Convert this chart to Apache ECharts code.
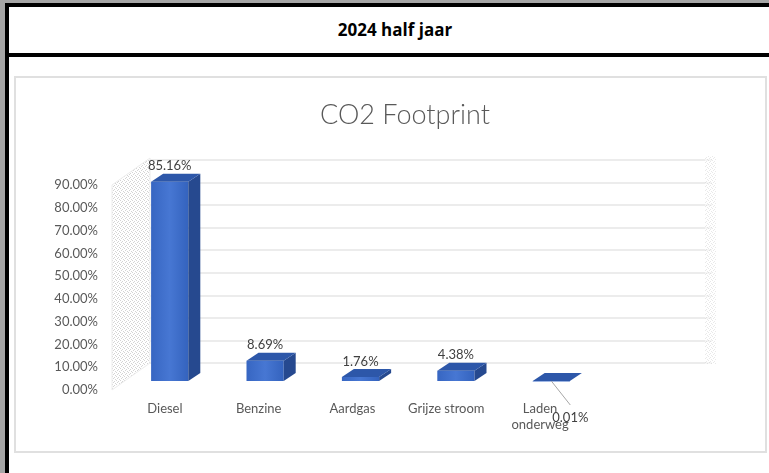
<!DOCTYPE html>
<html>
<head>
<meta charset="utf-8">
<script src="https://cdn.jsdelivr.net/npm/echarts@6/dist/echarts.min.js"></script>
<style>
  html, body { margin:0; padding:0; background:#fff; width:769px; height:473px; overflow:hidden; }
  .abs { position:absolute; }
  #header { position:absolute; left:9px; top:7px; width:772px; height:46px; line-height:46px; text-align:center;
            font-family: "Open Sans", Lato, sans-serif; font-weight:bold; font-size:17px; color:#000; }
  #box { position:absolute; left:14px; top:76px; width:749px; height:373px; border:2px solid #e0e0e0; }
  #chart { position:absolute; left:0; top:0; width:769px; height:473px; }
</style>
</head>
<body>
<div class="abs" style="left:0;top:0;width:5px;height:473px;background:#a6a6a6"></div>
<div class="abs" style="left:0;top:0;width:769px;height:3px;background:#a6a6a6"></div>
<div class="abs" style="left:5px;top:3px;width:4px;height:470px;background:#000"></div>
<div class="abs" style="left:5px;top:3px;width:764px;height:4px;background:#000"></div>
<div class="abs" style="left:5px;top:53px;width:764px;height:4px;background:#000"></div>
<div id="header">2024 half jaar</div>
<div id="box"></div>
<div id="chart"></div>
<script>
// ---- data ----
const chartTitle = 'CO2 Footprint';
const categories = ['Diesel', 'Benzine', 'Aardgas', 'Grijze stroom', 'Laden onderweg'];
const shares = [0.8516, 0.0869, 0.0176, 0.0438, 0.0001];
const axisMax = 0.9;
const axisStep = 0.1;

// ---- helpers ----
function pct(v) { return (v * 100).toFixed(2) + '%'; }

function makePattern() {
  const c = document.createElement('canvas');
  c.width = 4; c.height = 4;
  const g = c.getContext('2d');
  g.fillStyle = '#ffffff'; g.fillRect(0, 0, 4, 4);
  g.fillStyle = '#d4d4d4';
  g.fillRect(0, 0, 1, 1); g.fillRect(2, 1, 1, 1); g.fillRect(1, 2, 1, 1); g.fillRect(3, 3, 1, 1);
  return c;
}
const pattern = { image: makePattern(), repeat: 'repeat' };

const chart = echarts.init(document.getElementById('chart'), null, { renderer: 'canvas' });

const font = 'Lato, "Open Sans", sans-serif';
const DX = 12, DY = -8;

const option = {
  backgroundColor: 'transparent',
  animation: false,
  title: {
    text: chartTitle, left: 400, top: 97, textAlign: 'center',
    textStyle: { fontFamily: font, fontWeight: 300, fontSize: 27, color: '#595959' }
  },
  grid: [
    { left: 122, width: 477, top: 147, height: 234 },   // bars
    { left: 150, width: 562, top: 160, height: 203 },   // back wall
    { left: 118, width: 469, top: 185, height: 205 }    // front axis labels
  ],
  xAxis: [
    { gridIndex: 0, type: 'category', data: categories, show: false },
    { gridIndex: 1, type: 'category', data: categories, show: false },
    { gridIndex: 2, type: 'category', data: categories,
      axisLine: { show: false }, axisTick: { show: false },
      axisLabel: { interval: 0, margin: 11, fontFamily: font, fontSize: 13, color: '#595959', lineHeight: 16,
        formatter: v => v.length > 13 ? v.replace(' ', '\n') : v } }
  ],
  yAxis: [
    { gridIndex: 0, type: 'value', min: 0, max: 1, show: false },
    { gridIndex: 1, type: 'value', min: 0, max: axisMax, interval: axisStep,
      axisLine: { show: false }, axisTick: { show: false }, axisLabel: { show: false },
      splitLine: { show: true, lineStyle: { color: '#e6e6e6', width: 1.5 } } },
    { gridIndex: 2, type: 'value', min: 0, max: axisMax, interval: axisStep,
      axisLine: { show: false }, axisTick: { show: false }, splitLine: { show: false },
      axisLabel: { margin: 20, fontFamily: font, fontSize: 13, color: '#595959', formatter: pct } }
  ],
  graphic: [
    { type: 'polygon', silent: true, z: 1,
      shape: { points: [[112, 390], [150, 363], [150, 158], [112, 185]] },
      style: { fill: pattern, stroke: '#ececec', lineWidth: 1 } },
    { type: 'rect', silent: true, z: 1,
      shape: { x: 705, y: 156, width: 11, height: 208 },
      style: { fill: pattern, opacity: 0.5 } }
  ],
  series: [{
    type: 'custom',
    xAxisIndex: 0, yAxisIndex: 0,
    data: shares.map((v, i) => [i, v]),
    z: 5,
    renderItem: function (params, api) {
      const v = api.value(1);
      const base = api.coord([api.value(0), 0]);
      const top = api.coord([api.value(0), v]);
      const bw = api.size([1, 0])[0] * 0.39;
      const cx = base[0];
      const x0 = cx - bw / 2, x1 = cx + bw / 2;
      const yb = base[1], yt = top[1];
      const children = [
        { type: 'rect', shape: { x: x0, y: yt, width: bw, height: Math.max(yb - yt, 0.5) },
          style: { fill: new echarts.graphic.LinearGradient(0, 0, 1, 0, [
            { offset: 0, color: '#3766c2' }, { offset: 0.5, color: '#4777d3' }, { offset: 1, color: '#3463be' }]) } },
        { type: 'polygon', shape: { points: [[x1, yb], [x1 + DX, yb + DY], [x1 + DX, yt + DY], [x1, yt]] },
          style: { fill: '#26498f' } },
        { type: 'polygon', shape: { points: [[x0, yt], [x1, yt], [x1 + DX, yt + DY], [x0 + DX, yt + DY]] },
          style: { fill: '#2d57a9' } }
      ];
      if (yb - yt < 1) {
        children.push({ type: 'line', shape: { x1: cx, y1: yb, x2: cx + 19, y2: yb + 24 },
          style: { stroke: '#a6a6a6', lineWidth: 1 } });
        children.push({ type: 'text', style: { text: pct(v), x: cx + 19, y: yb + 37,
          align: 'center', verticalAlign: 'middle', font: '13px ' + font, fill: '#404040' } });
      } else {
        children.push({ type: 'text', style: { text: pct(v), x: cx, y: yt + DY - 1,
          align: 'center', verticalAlign: 'bottom', font: '13px ' + font, fill: '#404040' } });
      }
      return { type: 'group', children: children };
    }
  }]
};
chart.setOption(option);
</script>
</body>
</html>
